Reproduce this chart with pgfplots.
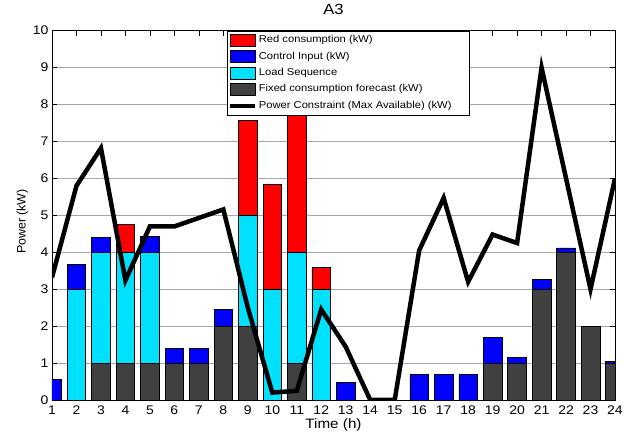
\documentclass[border=0pt]{standalone}
\usepackage{fontspec}
\setmainfont{Liberation Sans}[FakeStretch=1.12]
\newfontfamily\plainsans{Liberation Sans}
\usepackage{pgfplots}
\usepackage{pgfplotstable}
\pgfplotsset{compat=1.18}
\definecolor{redc}{RGB}{255,0,0}
\definecolor{ctrlc}{RGB}{0,0,255}
\definecolor{loadc}{RGB}{0,224,255}
\definecolor{fixedc}{RGB}{64,64,64}
\pgfplotstableread{
x  fixed load control red  line
1  0     0    0.56    0    3.32
2  0     3    0.67    0    5.80
3  1     3    0.40    0    6.82
4  1     3    0       0.75 3.24
5  1     3    0.42    0    4.70
6  1     0    0.40    0    4.70
7  1     0    0.40    0    4.93
8  2     0    0.46    0    5.16
9  2     3    0       2.57 2.50
10 0     3    0       2.84 0.20
11 1     3    0       3.76 0.25
12 0     3    0       0.58 2.45
13 0     0    0.47    0    1.44
14 0     0    0       0    0
15 0     0    0       0    0
16 0     0    0.69    0    4.05
17 0     0    0.69    0    5.47
18 0     0    0.69    0    3.20
19 1     0    0.70    0    4.48
20 1     0    0.16    0    4.25
21 3     0    0.26    0    9.00
22 4     0    0.12    0    6.00
23 2     0    0       0    3.00
24 1     0    0.04    0    6.00
}\data
\pgfplotsset{
  common/.style={
    at={(52pt,35pt)}, anchor=south west,
    scale only axis, width=563pt, height=369.3pt,
    xmin=1, xmax=24, ymin=0, ymax=10,
  },
}
\begin{document}
\begin{tikzpicture}[x=1pt,y=1pt]
\path[use as bounding box] (0,0) rectangle (630,435);
\begin{axis}[
  common,
  ybar stacked, bar width=0.76,
  xtick={1,...,24}, ytick={0,...,10},
  /pgf/number format/assume math mode=true,
  ticklabel style={font=\fontsize{12.5}{14}\selectfont},
  xticklabel style={yshift=-2pt},
  tick style={black, line width=0.6pt},
  major tick length=5pt,
  axis line style={black, line width=0.8pt},
  ymajorgrids,
  major grid style={gray!70, line width=0.7pt},
  title={A3},
  title style={at={(axis description cs:0.5,1.041)}, anchor=center, font=\fontsize{14.8}{16}\selectfont},
  xlabel={Time (h)},
  xlabel style={at={(axis description cs:0.5,-0.0677)}, anchor=center, font=\fontsize{13.6}{15}\selectfont},
  ylabel={\plainsans\fontsize{12.4}{14}\selectfont Power (kW)},
  ylabel style={at={(axis description cs:-0.0524,0.483)}, anchor=center},
  legend style={at={(0.31,1)}, anchor=north west, draw=black, line width=0.6pt, fill=white,
    font=\fontsize{10}{12}\selectfont, row sep=0pt, inner sep=1pt,
    nodes={inner xsep=2pt, inner ysep=3.5pt, text height=7.2pt, text depth=2.2pt}},
  legend cell align=left,
]
\addlegendimage{legend image code/.code={\draw[fill=redc, draw=black, line width=0.6pt] (0pt,-6pt) rectangle (25pt,6pt);}}
\addlegendentry{Red consumption (kW)}
\addlegendimage{legend image code/.code={\draw[fill=ctrlc, draw=black, line width=0.6pt] (0pt,-6pt) rectangle (25pt,6pt);}}
\addlegendentry{Control Input (kW)}
\addlegendimage{legend image code/.code={\draw[fill=loadc, draw=black, line width=0.6pt] (0pt,-6pt) rectangle (25pt,6pt);}}
\addlegendentry{Load Sequence}
\addlegendimage{legend image code/.code={\draw[fill=fixedc, draw=black, line width=0.6pt] (0pt,-6pt) rectangle (25pt,6pt);}}
\addlegendentry{Fixed consumption forecast (kW)}
\addlegendimage{legend image code/.code={\draw[black, line width=4pt] (0pt,0pt) -- (25pt,0pt);}}
\addlegendentry{Power Constraint (Max Available) (kW)\hspace*{15pt}}
\addplot[fill=fixedc, draw=black, line width=0.6pt] table[x=x, y=fixed] {\data};
\addplot[fill=loadc, draw=black, line width=0.6pt] table[x=x, y=load] {\data};
\addplot[fill=ctrlc, draw=black, line width=0.6pt] table[x=x, y=control] {\data};
\addplot[fill=redc, draw=black, line width=0.6pt] table[x=x, y=red] {\data};
\end{axis}
\begin{axis}[common, hide axis]
\addplot[black, line width=4.5pt, no markers] table[x=x, y=line] {\data};
\end{axis}
\end{tikzpicture}
\end{document}
